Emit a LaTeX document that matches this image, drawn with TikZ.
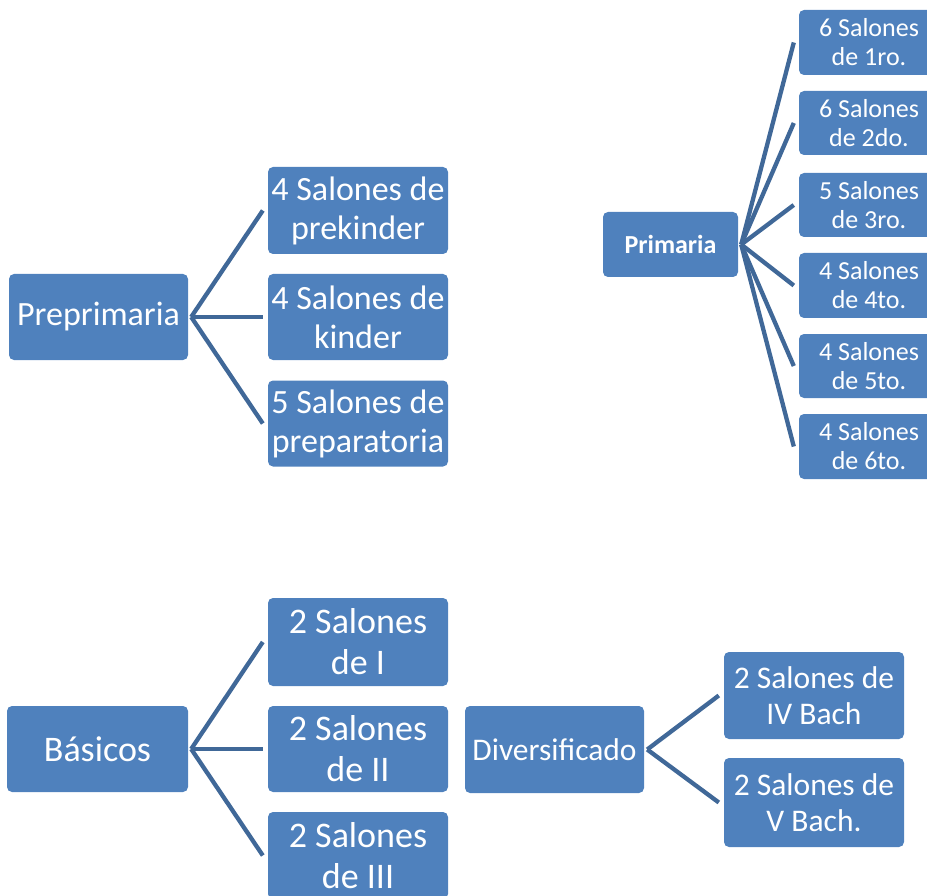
\documentclass[tikz,border=0pt]{standalone}
\usepackage{fontspec}
\setmainfont{Carlito}
\definecolor{boxblue}{RGB}{79,129,189}
\definecolor{linkblue}{RGB}{64,104,152}
\begin{document}
\begin{tikzpicture}[x=1pt,y=-1pt,
  box/.style={rectangle, rounded corners=5pt, fill=boxblue, text=white,
              inner sep=0pt, align=center},
  big/.style={box, font=\fontsize{34}{39}\selectfont},
  mid/.style={box, font=\fontsize{36}{41}\selectfont},
  div/.style={box, font=\fontsize{31.5}{36}\selectfont},
  small/.style={box, font=\fontsize{26}{29}\selectfont},
  link/.style={draw=linkblue, line width=4.3pt}]
\useasboundingbox (0,0) rectangle (927,896);
\clip (0,0) rectangle (927,896);

% Preprimaria
\node[big, minimum width=179, minimum height=86] (pre) at (98.5,317) {Preprimaria};
\node[big, minimum width=180, minimum height=87] (prek) at (358,210.5) {4 Salones de\\prekinder};
\node[big, minimum width=180, minimum height=86] (kind) at (358,317) {4 Salones de\\kinder};
\node[big, minimum width=180, minimum height=86] (prep) at (358,423.5) {5 Salones de\\preparatoria};
\coordinate (preo) at ([xshift=3]pre.east);
\foreach \c in {prek,kind,prep}
  \draw[link] (preo) -- ([xshift=-5]\c.west);

% Primaria
\node[small, font=\fontsize{26}{29}\selectfont\bfseries, minimum width=135, minimum height=65] (prim) at (670.5,244.5) {Primaria};
\node[small, minimum width=140, minimum height=65] (p1) at (869,42.5) {6 Salones\\de 1ro.};
\node[small, minimum width=140, minimum height=64] (p2) at (869,123) {6 Salones\\de 2do.};
\node[small, minimum width=140, minimum height=64] (p3) at (869,205) {5 Salones\\de 3ro.};
\node[small, minimum width=140, minimum height=65] (p4) at (869,285.5) {4 Salones\\de 4to.};
\node[small, minimum width=140, minimum height=64] (p5) at (869,366) {4 Salones\\de 5to.};
\node[small, minimum width=140, minimum height=65] (p6) at (869,446.5) {4 Salones\\de 6to.};
\coordinate (primo) at ([xshift=3]prim.east);
\foreach \c in {p1,p2,p3,p4,p5,p6}
  \draw[link] (primo) -- ([xshift=-5]\c.west);

% Basicos
\node[mid, minimum width=181, minimum height=86] (bas) at (97.5,749) {Básicos};
\node[mid, minimum width=180, minimum height=88] (b1) at (358,642) {2 Salones\\de I};
\node[mid, minimum width=180, minimum height=86] (b2) at (358,749) {2 Salones\\de II};
\node[mid, minimum width=180, minimum height=87] (b3) at (358,855.5) {2 Salones\\de III};
\coordinate (baso) at ([xshift=3]bas.east);
\foreach \c in {b1,b2,b3}
  \draw[link] (baso) -- ([xshift=-5]\c.west);

% Diversificado
\node[div, minimum width=179, minimum height=87] (dv) at (554.5,749.5) {Diversificado};
\node[div, minimum width=180, minimum height=87] (d1) at (814,695.5) {2 Salones de\\IV Bach};
\node[div, minimum width=180, minimum height=89] (d2) at (814,802.5) {2 Salones de\\V Bach.};
\coordinate (dvo) at ([xshift=3]dv.east);
\foreach \c in {d1,d2}
  \draw[link] (dvo) -- ([xshift=-5]\c.west);
\end{tikzpicture}
\end{document}
